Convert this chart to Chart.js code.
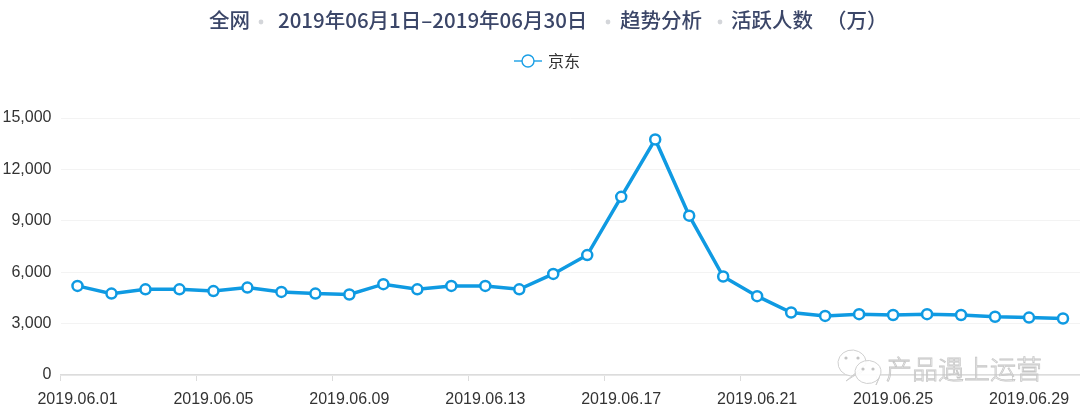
<!DOCTYPE html>
<html>
<head>
<meta charset="utf-8">
<style>html,body{margin:0;padding:0;background:#fff}#w{width:1080px;height:416px;position:relative}</style>
<script src="https://cdn.jsdelivr.net/npm/chart.js@4"></script>
</head>
<body>
<div id="w"><canvas id="c" width="1080" height="416"></canvas></div>
<script>
const categories = ['2019.06.01','2019.06.02','2019.06.03','2019.06.04','2019.06.05','2019.06.06','2019.06.07','2019.06.08','2019.06.09','2019.06.10','2019.06.11','2019.06.12','2019.06.13','2019.06.14','2019.06.15','2019.06.16','2019.06.17','2019.06.18','2019.06.19','2019.06.20','2019.06.21','2019.06.22','2019.06.23','2019.06.24','2019.06.25','2019.06.26','2019.06.27','2019.06.28','2019.06.29','2019.06.30'];
const jdValues = [5200,4750,5000,5000,4900,5100,4850,4750,4700,5300,5000,5200,5200,5000,5900,7000,10400,13750,9300,5750,4600,3650,3450,3550,3500,3550,3500,3400,3350,3300];
const seriesName = '京东';
const titleParts = [['全网',209],['2019年06月1日–2019年06月30日',278],['趋势分析',620],['活跃人数',731],['（万）',826]];
const titleDots = [261,608,720];
const watermark = '产品遇上运营';

const BLUE = '#0f9ae2';
const CJK = '"Noto Sans CJK SC","Noto Sans",sans-serif';
const LATIN = '"Liberation Sans",Arial,sans-serif';

const legendIcon = document.createElement('canvas');
legendIcon.width = 44; legendIcon.height = 16;
(function(){
  const g = legendIcon.getContext('2d');
  g.strokeStyle = '#1a9fe6'; g.lineWidth = 1.4;
  g.beginPath(); g.moveTo(16,8); g.lineTo(44,8); g.stroke();
  g.fillStyle = '#fff';
  g.beginPath(); g.arc(30,8,6,0,Math.PI*2); g.fill(); g.stroke();
})();

const decor = {
  id:'decor',
  beforeInit(chart){
    const fit = chart.legend.fit;
    chart.legend.fit = function(){ fit.call(this); this.height += 39; };
  },
  afterDraw(chart){
    const g = chart.ctx;
    g.save();
    g.textBaseline = 'middle'; g.textAlign = 'left';
    g.font = '500 20.5px ' + CJK;
    g.fillStyle = '#3b4668';
    titleParts.forEach(p => g.fillText(p[0], p[1], 20));
    g.fillStyle = '#d4d6da';
    titleDots.forEach(x => { g.beginPath(); g.arc(x,22,2.4,0,Math.PI*2); g.fill(); });
    // watermark
    g.strokeStyle = '#cfcfcf'; g.fillStyle = 'rgba(255,255,255,.9)'; g.lineWidth = 1;
    const bubble = (x,y,rx,ry,tx,ty) => {
      g.beginPath(); g.ellipse(x,y,rx,ry,0,0.5,Math.PI*2+0.1);
      g.lineTo(tx,ty); g.closePath(); g.fill(); g.stroke();
    };
    bubble(852,363,14,13,846,381);
    bubble(868,372,13,11.5,876,385);
    g.fillStyle = '#c4c4c4';
    [[846,358],[858,358],[863,369],[873,369]].forEach(d => { g.beginPath(); g.arc(d[0],d[1],1.6,0,Math.PI*2); g.fill(); });
    g.font = '300 26px ' + CJK;
    g.fillStyle = '#fff'; g.strokeStyle = '#c6c6c6'; g.lineWidth = 0.8;
    g.strokeText(watermark, 886, 369);
    g.restore();
  }
};

new Chart(document.getElementById('c'), {
  type:'line',
  plugins:[decor],
  data:{labels:categories,datasets:[{
    label:seriesName,data:jdValues,borderColor:BLUE,backgroundColor:'#fff',borderWidth:3.5,
    pointRadius:5,pointBorderWidth:2.5,pointBackgroundColor:'#fff',pointBorderColor:BLUE,tension:0,clip:false
  }]},
  options:{
    responsive:false,animation:false,
    layout:{autoPadding:false,padding:{top:53,left:0,right:0,bottom:0}},
    plugins:{
      title:{display:false},tooltip:{enabled:false},
      legend:{
        display:true,position:'top',align:'center',
        labels:{
          font:{family:CJK,size:16},color:'#333',usePointStyle:true,pointStyleWidth:40,padding:0,
          generateLabels:c=>[{text:seriesName,pointStyle:legendIcon,fillStyle:'#fff',strokeStyle:BLUE,lineWidth:0,datasetIndex:0,fontColor:'#333'}]
        }
      }
    },
    scales:{
      x:{
        type:'category',offset:true,
        afterFit:s=>{s.height=41;s.paddingLeft=0;s.paddingRight=0;},
        border:{color:'#dcdcdc',width:1.5},
        grid:{offset:true,drawOnChartArea:false,drawTicks:true,tickLength:6,
          tickColor:c=>c.index%4===0?'#dcdcdc':'rgba(0,0,0,0)'},
        ticks:{autoSkip:false,maxRotation:0,minRotation:0,padding:9,color:'#333',font:{family:LATIN,size:16},
          callback(v,i){return i%4===0?this.getLabelForValue(v):'';}}
      },
      y:{
        min:0,max:15000,
        afterFit:s=>{s.width=60.5;s.paddingTop=0;s.paddingBottom=0;},
        border:{display:false},
        grid:{color:'#f3f3f3',lineWidth:1,drawTicks:false},
        ticks:{stepSize:3000,padding:9,color:'#333',font:{family:LATIN,size:16},
          callback:v=>v.toLocaleString('en-US')}
      }
    }
  }
});
</script>
</body>
</html>
